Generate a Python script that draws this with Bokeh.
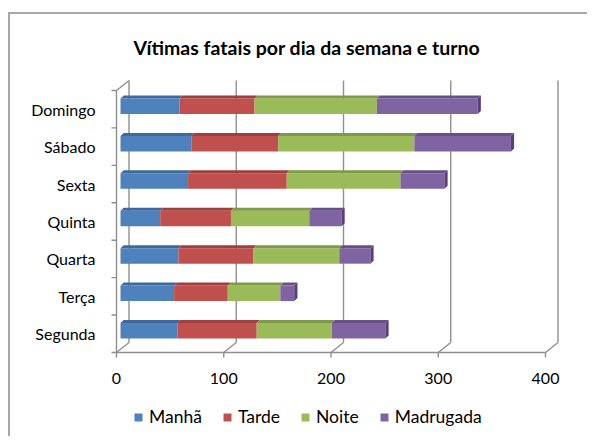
from bokeh.plotting import figure
from bokeh.models import Range1d, Legend, LegendItem, FixedTicker
from bokeh.core.properties import value
from bokeh.embed import file_html
from bokeh.resources import INLINE

# ---- data (bottom to top) ----
days = ["Segunda", "Terça", "Quarta", "Quinta", "Sexta", "Sábado", "Domingo"]
manha = [53, 50, 54, 37, 63, 66, 55]
tarde = [74, 50, 70, 66, 92, 81, 70]
noite = [70, 49, 80, 73, 106, 127, 114]
madrugada = [50, 13, 29, 30, 41, 90, 94]
series_names = ["Manhã", "Tarde", "Noite", "Madrugada"]
x_ticks = [0, 100, 200, 300, 400]
x_tick_labels = ["0", "100", "200", "300", "400"]
title_text = "Vítimas fatais por dia da semana e turno"

front_colors = ["#4F81BD", "#C0504D", "#9BBB59", "#8064A2"]
top_colors = ["#3D6A9E", "#9E3F3C", "#7E9A48", "#674F87"]
end_color = "#584078"
wall_color = "#8f8f8f"
FONT = "Lato"

# 3D geometry (data units)
D_DX, D_DY = 11.66, 0.267     # full floor depth
BX, BY, BH = 3.73, 0.08, 0.414  # bar front face offset/height
TX, TY = 3.0, 0.08              # bar depth
TICK_X = 5 / 1.0725
TICK_Y = 5 / 37.43
XLABEL_Y = -0.5 - 26 / 37.43

p = figure(frame_width=456, frame_height=362,
           x_range=Range1d(-5.594, 419.58), y_range=Range1d(-2.744, 6.927),
           output_backend="svg", toolbar_location=None,
           min_border_left=100, min_border_right=21,
           min_border_top=60, min_border_bottom=0)
p.styles = {"margin-left": "8px", "margin-top": "12px",
            "border-top": "2px solid #a6a6a6", "border-left": "2px solid #a6a6a6"}
p.outline_line_color = None
p.grid.visible = False

p.title.text = title_text
p.title.align = "left"
p.title.offset = 23
p.title.standoff = 31
p.title.text_font = FONT
p.title.text_font_size = "19.5px"
p.title.text_font_style = "bold"
p.title.text_color = "black"

p.xaxis.visible = False
p.yaxis.ticker = FixedTicker(ticks=list(range(len(days))))
p.yaxis.major_label_overrides = {i: d for i, d in enumerate(days)}
p.yaxis.axis_line_color = None
p.yaxis.major_tick_line_color = None
p.yaxis.minor_tick_line_color = None
p.yaxis.major_label_text_font = FONT
p.yaxis.major_label_text_font_size = "16px"
p.yaxis.major_label_text_color = "black"
p.yaxis.major_label_standoff = 9

n = len(days)
# back wall gridlines
p.segment(x0=[v + D_DX for v in x_ticks], y0=[-0.5 + D_DY] * len(x_ticks),
          x1=[v + D_DX for v in x_ticks], y1=[n - 0.5 + D_DY] * len(x_ticks),
          line_color=wall_color, line_width=1.4)
# floor slants
p.segment(x0=x_ticks, y0=[-0.5] * len(x_ticks),
          x1=[v + D_DX for v in x_ticks], y1=[-0.5 + D_DY] * len(x_ticks),
          line_color=wall_color, line_width=1.4)
# front floor line + x ticks
p.segment(x0=[x_ticks[0]], y0=[-0.5], x1=[x_ticks[-1]], y1=[-0.5],
          line_color=wall_color, line_width=1.4)
p.segment(x0=x_ticks, y0=[-0.5] * len(x_ticks), x1=x_ticks,
          y1=[-0.5 - TICK_Y] * len(x_ticks), line_color=wall_color, line_width=1.4)
# x tick labels (value axis along the front floor edge)
p.text(x=x_ticks, y=[XLABEL_Y] * len(x_ticks), text=x_tick_labels,
       text_align="center", text_baseline="middle",
       text_font=value(FONT), text_font_size="16px", text_color="black")
# left wall
p.segment(x0=[0, 0], y0=[-0.5, n - 0.5], x1=[0, D_DX], y1=[n - 0.5, n - 0.5 + D_DY],
          line_color=wall_color, line_width=1.4)
p.segment(x0=[-TICK_X] * (n + 1), y0=[k - 0.5 for k in range(n + 1)],
          x1=[0] * (n + 1), y1=[k - 0.5 for k in range(n + 1)],
          line_color=wall_color, line_width=1.4)

# bars
all_series = [manha, tarde, noite, madrugada]
cum = [0] * n
renderers = []
for s, vals in enumerate(all_series):
    lefts = [c + BX for c in cum]
    rights = [c + v + BX for c, v in zip(cum, vals)]
    ys = [i + BY for i in range(n)]
    r = p.hbar(y=ys, left=lefts, right=rights, height=BH,
               fill_color=front_colors[s], line_color=None)
    renderers.append(r)
    xs_top, ys_top = [], []
    for l, rr, y in zip(lefts, rights, ys):
        t = y + BH / 2
        xs_top.append([l, rr, rr + TX, l + TX])
        ys_top.append([t, t, t + TY, t + TY])
    p.patches(xs=xs_top, ys=ys_top, fill_color=top_colors[s], line_color=None)
    if s == len(all_series) - 1:
        xs_end, ys_end = [], []
        for rr, y in zip(rights, ys):
            b, t = y - BH / 2, y + BH / 2
            xs_end.append([rr, rr + TX, rr + TX, rr])
            ys_end.append([b, b + TY, t + TY, t])
        p.patches(xs=xs_end, ys=ys_end, fill_color=end_color, line_color=None)
    cum = [c + v for c, v in zip(cum, vals)]

legend = Legend(items=[LegendItem(label=nm, renderers=[r]) for nm, r in zip(series_names, renderers)],
                orientation="horizontal", location=(23, 9),
                glyph_width=10, glyph_height=10, label_standoff=6, spacing=20,
                padding=4, margin=0,
                label_text_font=FONT, label_text_font_size="17.5px", label_text_color="black",
                border_line_color=None, background_fill_alpha=0)
p.add_layout(legend, "center")

open("out.html", "w").write(file_html(p, INLINE))
